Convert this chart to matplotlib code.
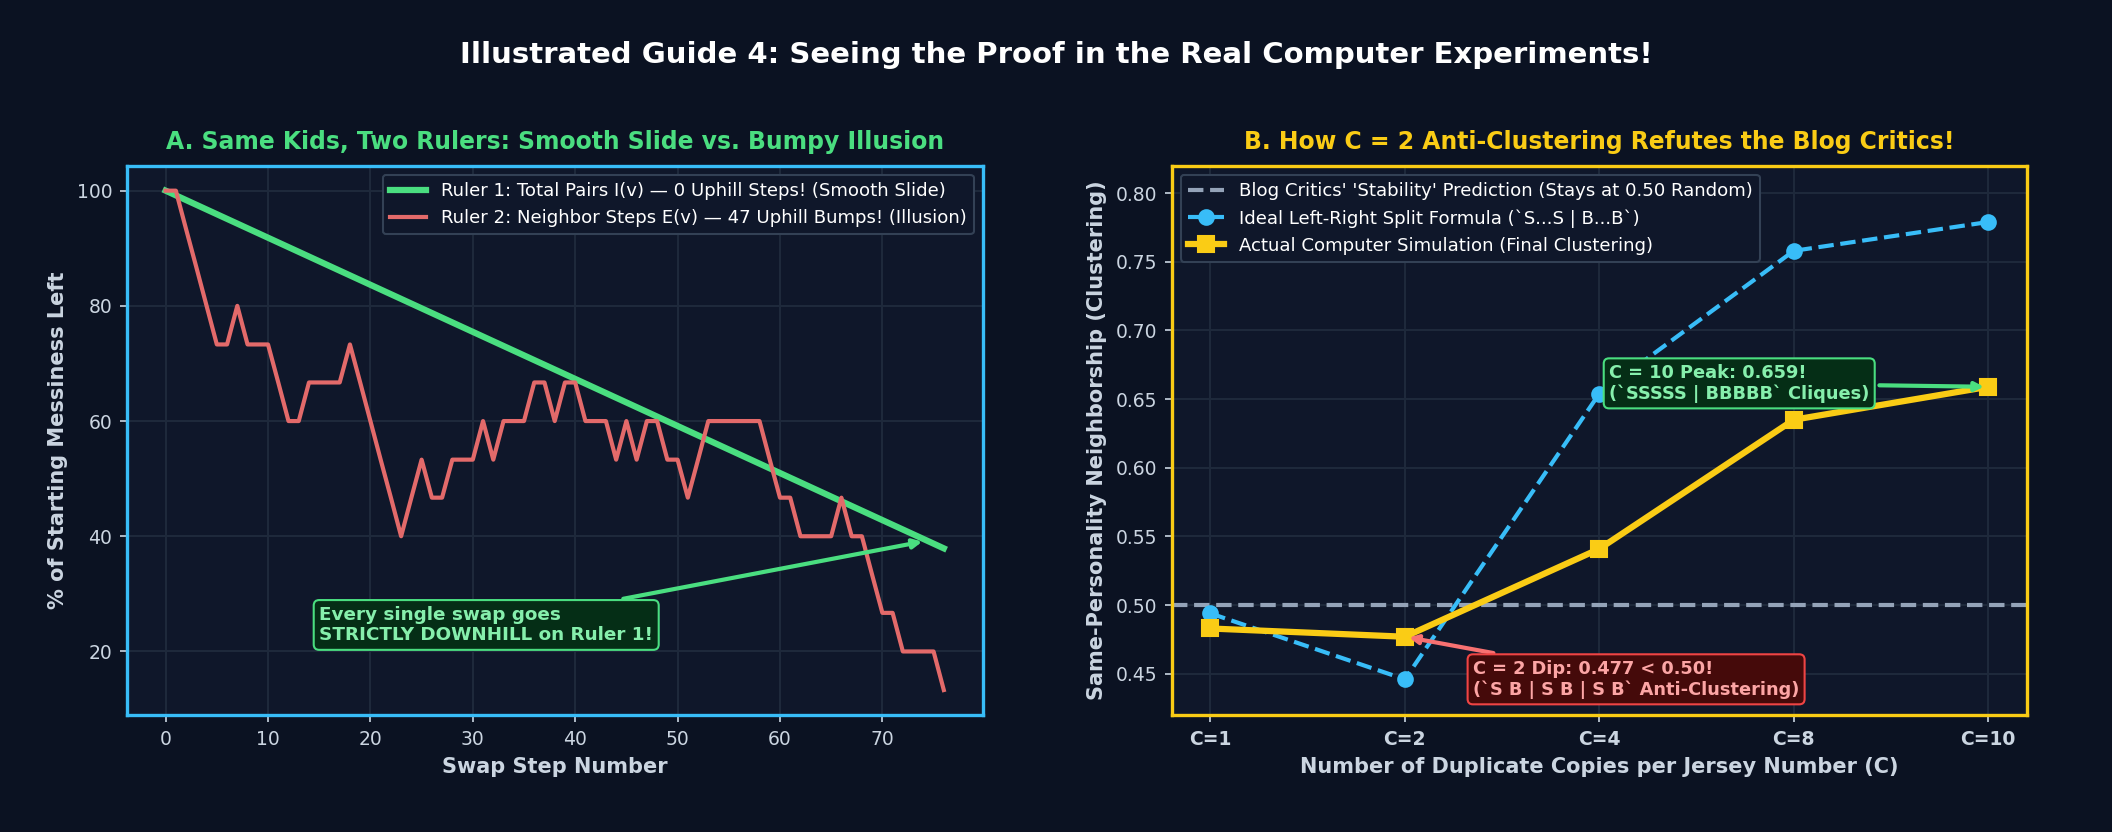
import matplotlib
matplotlib.use("Agg")
import matplotlib.pyplot as plt

# panel A: swap steps
steps = list(range(77))
ruler2 = [100, 100, 93.3, 86.7, 80, 73.3, 73.3, 80, 73.3, 73.3,
          73.3, 66.7, 60, 60, 66.7, 66.7, 66.7, 66.7, 73.3, 66.7,
          60, 53.3, 46.7, 40, 46.7, 53.3, 46.7, 46.7, 53.3, 53.3,
          53.3, 60, 53.3, 60, 60, 60, 66.7, 66.7, 60, 66.7,
          66.7, 60, 60, 60, 53.3, 60, 53.3, 60, 60, 53.3,
          53.3, 46.7, 53.3, 60, 60, 60, 60, 60, 60, 53.3,
          46.7, 46.7, 40, 40, 40, 40, 46.7, 40, 40, 33.3,
          26.7, 26.7, 20, 20, 20, 20, 13.3]
ruler1_steps = [0, 76]
ruler1 = [100, 37.9]

# panel B: duplicate copies
c_labels = ["C=1", "C=2", "C=4", "C=8", "C=10"]
ideal = [0.494, 0.446, 0.654, 0.758, 0.779]
actual = [0.483, 0.477, 0.541, 0.635, 0.659]
critics = 0.50

BG = "#0b1222"
AXBG = "#0f172a"
GRID = "#1e293b"
TXT = "#cbd5e1"
GREEN = "#4ade80"
RED = "#e36a6a"
BLUE = "#38bdf8"
YELLOW = "#facc15"
GRAY = "#94a3b8"

fig = plt.figure(figsize=(14.08, 5.547), dpi=150, facecolor=BG)
ax1 = fig.add_axes([0.060, 0.1406, 0.4053, 0.6602])
ax2 = fig.add_axes([0.5547, 0.1406, 0.4051, 0.6602])

for ax, edge in ((ax1, BLUE), (ax2, YELLOW)):
    ax.set_facecolor(AXBG)
    for s in ax.spines.values():
        s.set_color(edge)
        s.set_linewidth(1.6)
    ax.grid(True, color=GRID, lw=1)
    ax.set_axisbelow(True)
    ax.tick_params(colors=TXT, labelsize=9)

fig.suptitle("Illustrated Guide 4: Seeing the Proof in the Real Computer Experiments!",
             x=0.5, y=0.934, va="center", color="white", fontsize=14, fontweight="bold")

# ---- A
ax1.plot(ruler1_steps, ruler1, color=GREEN, lw=3,
         label="Ruler 1: Total Pairs I(v) — 0 Uphill Steps! (Smooth Slide)")
ax1.plot(steps, ruler2, color=RED, lw=2,
         label="Ruler 2: Neighbor Steps E(v) — 47 Uphill Bumps! (Illusion)")
ax1.set_xticks([0, 10, 20, 30, 40, 50, 60, 70])
ax1.set_yticks([20, 40, 60, 80, 100])
ax1.set_title("A. Same Kids, Two Rulers: Smooth Slide vs. Bumpy Illusion",
              color=GREEN, fontsize=11.3, fontweight="bold", pad=8)
ax1.set_xlabel("Swap Step Number", color=TXT, fontsize=10, fontweight="bold")
ax1.set_ylabel("% of Starting Messiness Left", color=TXT, fontsize=10, fontweight="bold")
ax1.legend(loc="upper right", fontsize=8.7, facecolor=AXBG, edgecolor="#334155",
           labelcolor="white", framealpha=1)
ax1.annotate("Every single swap goes\nSTRICTLY DOWNHILL on Ruler 1!",
             xy=(74.3, 39.2), xytext=(15, 24.6), ha="left", va="center",
             color="#86efac", fontsize=8.8, fontweight="bold",
             bbox=dict(boxstyle="round,pad=0.3", fc="#052e16", ec=GREEN, lw=1),
             arrowprops=dict(arrowstyle="-|>", color=GREEN, lw=2))

# ---- B
xs = list(range(len(c_labels)))
ax2.axhline(critics, color=GRAY, lw=2, ls="--",
            label="Blog Critics' 'Stability' Prediction (Stays at 0.50 Random)")
ax2.plot(xs, ideal, color=BLUE, lw=2, ls="--", marker="o", ms=7,
         label="Ideal Left-Right Split Formula (`S...S | B...B`)")
ax2.plot(xs, actual, color=YELLOW, lw=3, marker="s", ms=8,
         label="Actual Computer Simulation (Final Clustering)")
ax2.set_xticks(xs)
ax2.set_xticklabels(c_labels, fontweight="bold")
ax2.set_ylim(0.42, 0.82)
ax2.set_title("B. How C = 2 Anti-Clustering Refutes the Blog Critics!",
              color=YELLOW, fontsize=11.3, fontweight="bold", pad=8)
ax2.set_xlabel("Number of Duplicate Copies per Jersey Number (C)", color=TXT,
               fontsize=10, fontweight="bold")
ax2.set_ylabel("Same-Personality Neighborship (Clustering)", color=TXT,
               fontsize=10, fontweight="bold")
ax2.legend(loc="upper left", fontsize=8.7, facecolor=AXBG, edgecolor="#334155",
           labelcolor="white", framealpha=1)
ax2.annotate("C = 2 Dip: 0.477 < 0.50!\n(`S B | S B | S B` Anti-Clustering)",
             xy=(1, 0.477), xytext=(1.35, 0.446), ha="left", va="center",
             color="#fca5a5", fontsize=8.5, fontweight="bold",
             bbox=dict(boxstyle="round,pad=0.3", fc="#450a0a", ec="#ef4444", lw=1),
             arrowprops=dict(arrowstyle="-|>", color="#f87171", lw=2))
ax2.annotate("C = 10 Peak: 0.659!\n(`SSSSS | BBBBB` Cliques)",
             xy=(4, 0.659), xytext=(2.05, 0.6615), ha="left", va="center",
             color="#86efac", fontsize=8.5, fontweight="bold",
             bbox=dict(boxstyle="round,pad=0.3", fc="#052e16", ec=GREEN, lw=1),
             arrowprops=dict(arrowstyle="-|>", color=GREEN, lw=2))

fig.savefig("out.png", dpi=150, facecolor=BG)
